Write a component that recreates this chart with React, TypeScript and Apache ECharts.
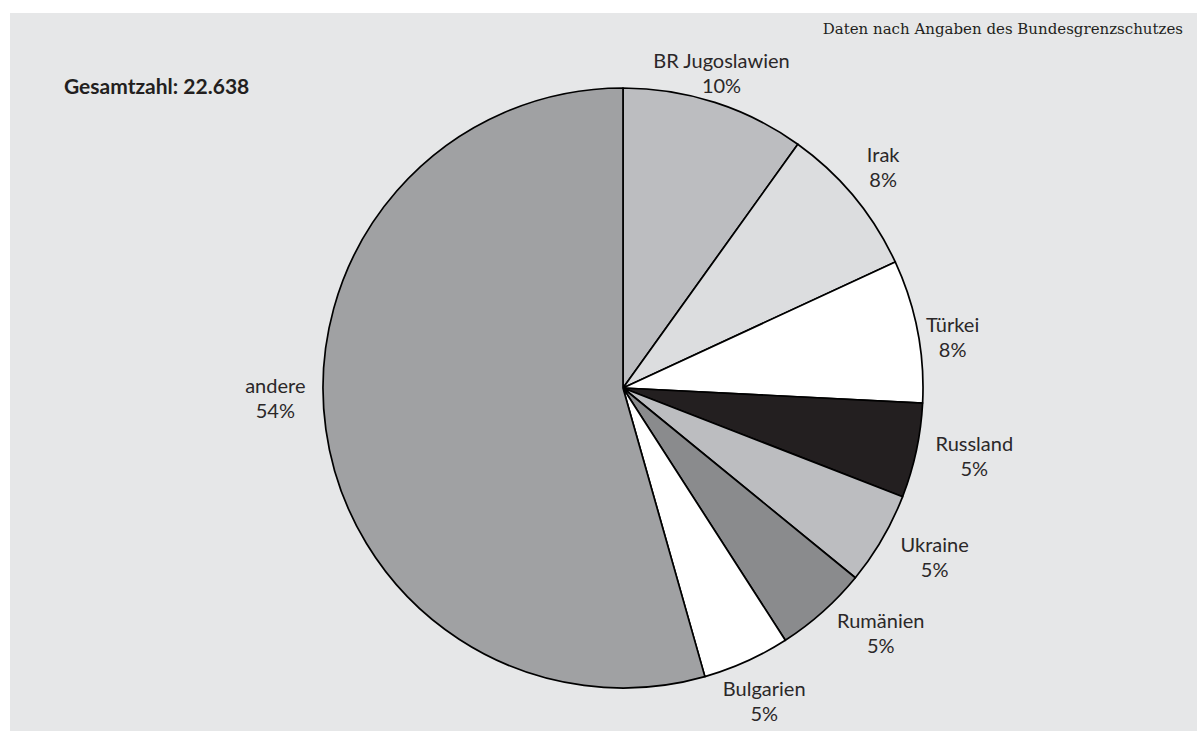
import React, { useEffect, useRef } from "react";
import * as echarts from "echarts";

const categories = [
  "BR Jugoslawien",
  "Irak",
  "Türkei",
  "Russland",
  "Ukraine",
  "Rumänien",
  "Bulgarien",
  "andere",
];
const shares = [9.9, 8.2, 7.7, 5.1, 5.0, 5.0, 4.7, 54.4];
const sliceColors = [
  "#bcbdc0",
  "#dcdddf",
  "#ffffff",
  "#231f20",
  "#bcbdc0",
  "#8a8b8d",
  "#ffffff",
  "#a0a1a3",
];
const totalLabel = "Gesamtzahl: 22.638";
const sourceNote = "Daten nach Angaben des Bundesgrenzschutzes";

export default function App() {
  const ref = useRef<HTMLDivElement>(null);

  useEffect(() => {
    document.body.style.margin = "0";
    const chart = echarts.init(ref.current!, null, { renderer: "svg" });
    const data = categories.map((name, i) => ({
      name,
      value: shares[i],
      itemStyle: { color: sliceColors[i] },
    }));
    // small hand adjustments of label placement, as in the original layout
    const labelNudge: Record<string, number[]> = {
      "BR Jugoslawien": [-8, 16],
      Irak: [-8, 0],
      "Türkei": [-12, 15],
      Russland: [11, -5],
      Ukraine: [11, -7],
      "Rumänien": [26, -15],
      Bulgarien: [-2, -5],
      andere: [-3, -38],
    };
    const labelData = categories.map((name, i) => {
      const item: any = { name, value: shares[i] };
      if (labelNudge[name]) item.label = { offset: labelNudge[name] };
      return item;
    });
    chart.setOption({
      animation: false,
      backgroundColor: "#ffffff",
      graphic: [
        {
          type: "rect",
          left: 10,
          top: 13,
          z: -10,
          shape: { width: 1187, height: 718 },
          style: { fill: "#e6e7e8" },
        },
        {
          type: "text",
          left: 64,
          top: 75,
          style: {
            text: totalLabel,
            fill: "#231f20",
            font: "bold 21px Lato",
          },
        },
        {
          type: "text",
          right: 14,
          top: 21,
          style: {
            text: sourceNote,
            fill: "#231f20",
            font: "15px 'DejaVu Serif'",
          },
        },
      ],
      series: [
        {
          type: "pie",
          center: [623, 388],
          radius: [0, 300],
          startAngle: 90,
          clockwise: true,
          label: { show: false },
          labelLine: { show: false },
          silent: true,
          itemStyle: { borderColor: "#000000", borderWidth: 1.7 },
          data,
        },
        {
          type: "pie",
          center: [623, 388],
          radius: [300, 390],
          startAngle: 90,
          clockwise: true,
          silent: true,
          itemStyle: { color: "rgba(0,0,0,0)", borderWidth: 0 },
          label: {
            show: true,
            position: "inside",
            formatter: (p: any) => `${p.name}\n${Math.round(p.value)}%`,
            color: "#2b2829",
            fontFamily: "Lato",
            fontSize: 20,
            lineHeight: 25,
            align: "center",
          },
          labelLine: { show: false },
          data: labelData,
        },
      ],
    });
    return () => chart.dispose();
  }, []);

  return <div ref={ref} style={{ width: 1197, height: 731 }} />;
}
